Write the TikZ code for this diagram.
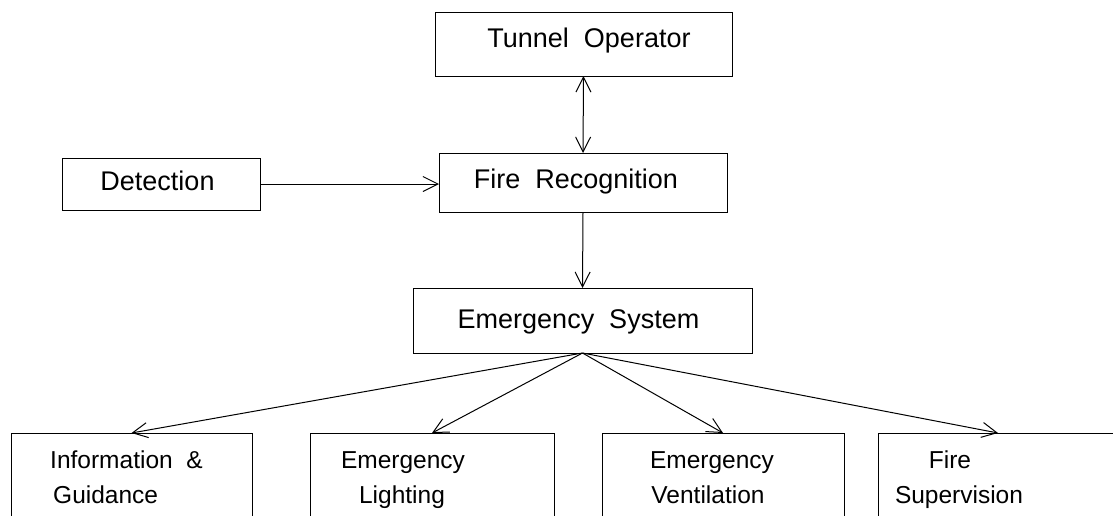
\documentclass[tikz,border=0pt]{standalone}
\usepackage{fontspec}
\setmainfont{Liberation Sans}
\usetikzlibrary{arrows.meta}
\begin{document}
\begin{tikzpicture}[x=1pt,y=-1pt,
  box/.style={draw=black,line width=1pt,minimum width=#1,inner sep=0pt,outer sep=0pt},
  lbl/.style={font=\fontsize{27}{32}\selectfont,inner sep=0pt,anchor=base},
  slbl/.style={font=\fontsize{24.5}{30}\selectfont,inner sep=0pt,anchor=base},
  arr/.style={line width=1pt,-{Straight Barb[length=15pt,width=15pt]}},
  darr/.style={line width=1pt,{Straight Barb[length=15pt,width=15pt]}-{Straight Barb[length=15pt,width=15pt]}}]
\useasboundingbox (0,0) rectangle (1113,515);
% boxes
\node[box=297pt,minimum height=64pt] (to) at (583.5,44) {};
\node[box=288pt,minimum height=59pt] (fr) at (583,182.5) {};
\node[box=198pt,minimum height=52pt] (det) at (161,184) {};
\node[box=339pt,minimum height=65pt] (es) at (582.5,320.5) {};
\node[box=241pt,minimum height=120pt,anchor=north] (info) at (131.5,433) {};
\node[box=244pt,minimum height=120pt,anchor=north] (light) at (432,433) {};
\node[box=242pt,minimum height=120pt,anchor=north] (vent) at (723,433) {};
\node[box=240pt,minimum height=120pt,anchor=north] (sup) at (998,433) {};
% labels
\node[lbl] (tot) at (589,47) {Tunnel\ \ Operator};
\node[lbl] (frt) at (576,188) {Fire\ \ Recognition};
\node[lbl] (dett) at (157.5,190) {Detection};
\node[lbl] (est) at (578.5,328) {Emergency\ \ System};
\node[slbl,anchor=base west] (infoa) at (50,468) {Information\ \ \&};
\node[slbl,anchor=base west] (infob) at (53,503) {Guidance};
\node[slbl] (lighta) at (403,468) {Emergency};
\node[slbl] (lightb) at (402,503) {Lighting};
\node[slbl] (venta) at (712,468) {Emergency};
\node[slbl] (ventb) at (708,503) {Ventilation};
\node[slbl] (supa) at (950,468) {Fire};
\node[slbl] (supb) at (959,503) {Supervision};
% connectors
\draw[darr] (to.south) -- (fr.north);
\draw[arr] (det.east) -- (det.east -| fr.west);
\draw[arr] (fr.south) -- (es.north);
\draw[arr] (es.south) -- (info.north);
\draw[arr] (es.south) -- (light.north);
\draw[arr] (es.south) -- (vent.north);
\draw[arr] (es.south) -- (sup.north);
\end{tikzpicture}
\end{document}
